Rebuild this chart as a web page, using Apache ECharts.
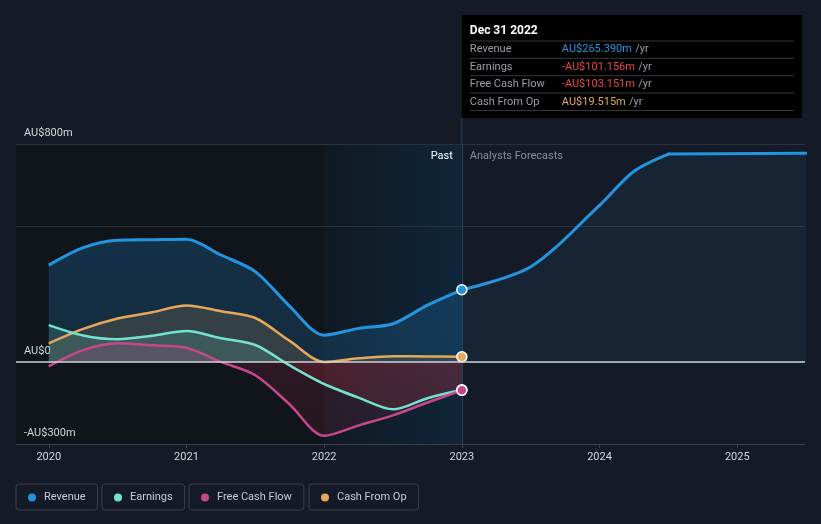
<!DOCTYPE html>
<html><head><meta charset="utf-8">
<script src="https://cdn.jsdelivr.net/npm/echarts@6/dist/echarts.min.js"></script>
<style>html,body{margin:0;padding:0;background:#151b26;}#c{width:821px;height:524px;}</style>
</head><body><div id="c"></div>
<script>
// ---- data ----
const pastYears      = [2020, 2020.25, 2020.5, 2020.75, 2021, 2021.25, 2021.5, 2021.75, 2022, 2022.25, 2022.5, 2022.75, 2023];
const revenuePast    = [356, 420, 447, 449, 451, 393, 332, 205, 99, 124, 141, 209, 265.390];
const earnings       = [136, 98, 84, 97, 114, 88, 63, -12, -80, -130, -173, -132, -101.156];
const freeCashFlow   = [-15, 44, 69, 62, 53, 1, -48, -155, -270, -232, -195, -148, -103.151];
const cashFromOp     = [69, 122, 160, 183, 208, 187, 162, 78, 1, 14, 22, 21, 19.515];
const forecastYears  = [2023, 2023.5, 2024, 2024.25, 2024.5, 2025.5];
const revenueForecast= [265.390, 350, 575, 700, 763, 766];
const xTickYears     = [2020, 2021, 2022, 2023, 2024, 2025];
const yLabelValues   = [-300, 0, 800];
const yLabelTexts    = ['-AU$300m', 'AU$0', 'AU$800m'];
const gridLineValues = [800, 500];
const tooltipDate    = 'Dec 31 2022';
const seriesNames    = ['Revenue', 'Earnings', 'Free Cash Flow', 'Cash From Op'];

const C = {rev:'#2394df', earn:'#72e3d0', fcf:'#c8478b', cfo:'#e6a85a', neg:'#e8474c'};
const FONT = 'Roboto';
const X_MIN = 2019.762, X_MAX = 2025.492, Y_MIN = -300, Y_MAX = 800;
const GRID = {left:16, right:16, top:144, bottom:80};
const KNEE = 4; // index in forecast where growth levels off

const chart = echarts.init(document.getElementById('c'), null, {renderer:'canvas'});

function pairs(xs, ys){ return xs.map((x,i)=>[x, ys[i]]); }
function withEndDot(xs, ys, color){
  const d = pairs(xs, ys);
  const k = d.length - 1;
  d[k] = {value:d[k], symbol:'circle', symbolSize:10, itemStyle:{color:color, borderColor:'#ffffff', borderWidth:1.5}};
  return d;
}
const zf = (Y_MAX - 0) / (Y_MAX - Y_MIN);
function twoTone(top1, top2, bot1, bot2){
  return new echarts.graphic.LinearGradient(0, GRID.top, 0, 524 - GRID.bottom, [
    {offset:0, color:top1}, {offset:zf, color:top2}, {offset:zf, color:bot1}, {offset:1, color:bot2}], true);
}

const lineBase = {type:'line', smooth:0.3, symbol:'none', showSymbol:true, showAllSymbol:true,
  silent:true, emphasis:{disabled:true}, animation:false, z:2};

const legendLefts = [16, 102, 189, 309];
const fcData = pairs(forecastYears, revenueForecast);

const option = {
  backgroundColor:'#151b26',
  animation:false,
  grid:{left:GRID.left, right:GRID.right, top:GRID.top, bottom:GRID.bottom, containLabel:false},
  xAxis:{type:'value', min:X_MIN, max:X_MAX, splitLine:{show:false},
    axisLine:{onZero:false, lineStyle:{color:'#3b414c', width:1}},
    axisTick:{customValues:xTickYears, length:4, lineStyle:{color:'#3b414c'}},
    axisLabel:{customValues:xTickYears, formatter:v=>String(Math.round(v)), color:'#d5d8dc', fontSize:11, fontFamily:FONT, margin:8}},
  yAxis:{type:'value', min:Y_MIN, max:Y_MAX, splitLine:{show:false}, axisLine:{show:false}, axisTick:{show:false},
    axisLabel:{inside:true, customValues:yLabelValues, formatter:v=>yLabelTexts[yLabelValues.indexOf(v)],
      color:'#d5d8dc', fontSize:11, fontFamily:FONT, verticalAlign:'bottom', margin:8, padding:[0,0,5,0]}},
  legend: seriesNames.map((n,i)=>({data:[n], left:legendLefts[i], top:484, icon:'circle', itemWidth:8, itemHeight:8,
    padding:[8,12,7,12], borderColor:'#3a404c', borderWidth:1, borderRadius:3, selectedMode:false,
    textStyle:{color:'#c8ccd2', fontSize:11, fontFamily:FONT, padding:[0,0,0,3]}})),
  series:[
    {type:'line', name:'bg', data:[], silent:true, z:0,
      markArea:{silent:true, z:0, data:[
        [{xAxis:'min', itemStyle:{color:'#10141b'}}, {xAxis:2022}],
        [{xAxis:2022, itemStyle:{color:new echarts.graphic.LinearGradient(0,0,1,0,[{offset:0,color:'#101922'},{offset:1,color:'#0f2539'}])},
          label:{show:true, formatter:'Past', position:'insideTopRight', distance:0, padding:[7,9,0,0], color:'#ffffff', fontSize:11, fontFamily:FONT}},
         {xAxis:2023}],
        [{xAxis:2023, itemStyle:{color:'rgba(0,0,0,0)'},
          label:{show:true, formatter:'Analysts Forecasts', position:'insideTopLeft', distance:0, padding:[7,0,0,8], color:'#8a9099', fontSize:11, fontFamily:FONT}},
         {xAxis:'max'}]
      ]},
      markLine:{silent:true, z:0.5, symbol:'none', label:{show:false}, animation:false,
        lineStyle:{color:'#2c323d', width:1, type:'solid'},
        data: gridLineValues.map(v=>({yAxis:v})).concat([{xAxis:2023, lineStyle:{color:'#28425a', width:1, type:'solid'}}])}
    },
    Object.assign({}, lineBase, {name:'Revenue', color:C.rev, data:fcData.slice(0, KNEE+1),
      lineStyle:{width:3, color:C.rev, cap:'round'}, areaStyle:{color:'rgba(35,148,223,0.11)'}}),
    Object.assign({}, lineBase, {name:'Revenue', color:C.rev, data:fcData.slice(KNEE), smooth:false,
      lineStyle:{width:3, color:C.rev, cap:'round'}, areaStyle:{color:'rgba(35,148,223,0.11)'}}),
    Object.assign({}, lineBase, {name:'Revenue', color:C.rev, data:withEndDot(pastYears, revenuePast, C.rev),
      lineStyle:{width:3, color:C.rev},
      areaStyle:{color:new echarts.graphic.LinearGradient(0,0,0,1,[{offset:0,color:'rgba(35,148,223,0.32)'},{offset:1,color:'rgba(35,148,223,0.26)'}])}}),
    Object.assign({}, lineBase, {name:'Cash From Op', color:C.cfo, data:withEndDot(pastYears, cashFromOp, C.cfo),
      lineStyle:{width:2.5, color:C.cfo}, areaStyle:{color:'rgba(230,168,90,0.22)'}}),
    Object.assign({}, lineBase, {name:'Earnings', color:C.earn, data:withEndDot(pastYears, earnings, C.earn),
      lineStyle:{width:2.5, color:C.earn},
      areaStyle:{color:twoTone('rgba(114,227,208,0.26)','rgba(114,227,208,0.22)','rgba(232,60,64,0.22)','rgba(232,60,64,0.16)')}}),
    Object.assign({}, lineBase, {name:'Free Cash Flow', color:C.fcf, data:withEndDot(pastYears, freeCashFlow, C.fcf),
      lineStyle:{width:2.5, color:C.fcf},
      areaStyle:{color:twoTone('rgba(200,71,139,0.28)','rgba(200,71,139,0.26)','rgba(200,48,80,0.22)','rgba(200,48,80,0.16)')}}),
    {type:'line', name:'zero', data:[], silent:true, z:3,
      markLine:{silent:true, z:3, symbol:'none', label:{show:false}, animation:false,
        lineStyle:{color:'#d0d3d8', width:1.5, type:'solid'}, data:[{yAxis:0}]}}
  ]
};
chart.setOption(option);

// ---- info box anchored at the last reported point ----
function fmt(v){ const s = 'AU$' + Math.abs(v).toFixed(3) + 'm'; return v < 0 ? '-' + s : s; }
const lastVals = [revenuePast, earnings, freeCashFlow, cashFromOp].map(a=>a[a.length-1]);
const baseCols = [C.rev, C.earn, C.fcf, C.cfo];
const valColors = baseCols.map((c,i)=> lastVals[i] < 0 ? C.neg : c);
const px = chart.convertToPixel({xAxisIndex:0}, pastYears[pastYears.length-1]);
const boxTop = 15, boxW = 340, boxH = 103;
const g = [];
g.push({type:'line', shape:{x1:px, y1:boxTop+boxH, x2:px, y2:GRID.top}, style:{stroke:'#28425a', lineWidth:1}, z:50, silent:true});
g.push({type:'rect', shape:{x:px, y:boxTop, width:boxW, height:boxH}, style:{fill:'#000000'}, z:100, silent:true});
g.push({type:'text', x:px+8, y:boxTop+16, style:{text:tooltipDate, fill:'#ffffff', font:'bold 12px '+FONT, verticalAlign:'middle'}, z:101, silent:true});
const sepY = [41, 58.3, 75.7, 93, 110.5];
sepY.forEach(y=> g.push({type:'line', shape:{x1:px+8, y1:y, x2:px+332, y2:y}, style:{stroke:'#34373d', lineWidth:1}, z:101, silent:true}));
seriesNames.forEach((n,i)=>{
  const cy = (sepY[i] + sepY[i+1]) / 2;
  g.push({type:'text', x:px+8, y:cy, style:{text:n, fill:'#9a9fa7', font:'11px '+FONT, verticalAlign:'middle'}, z:101, silent:true});
  g.push({type:'text', x:px+100, y:cy, style:{text:'{v|'+fmt(lastVals[i])+'} {u|/yr}', verticalAlign:'middle',
    rich:{v:{fill:valColors[i], font:'11px '+FONT}, u:{fill:'#9a9fa7', font:'11px '+FONT}}}, z:101, silent:true});
});
chart.setOption({graphic:g});
</script></body></html>
